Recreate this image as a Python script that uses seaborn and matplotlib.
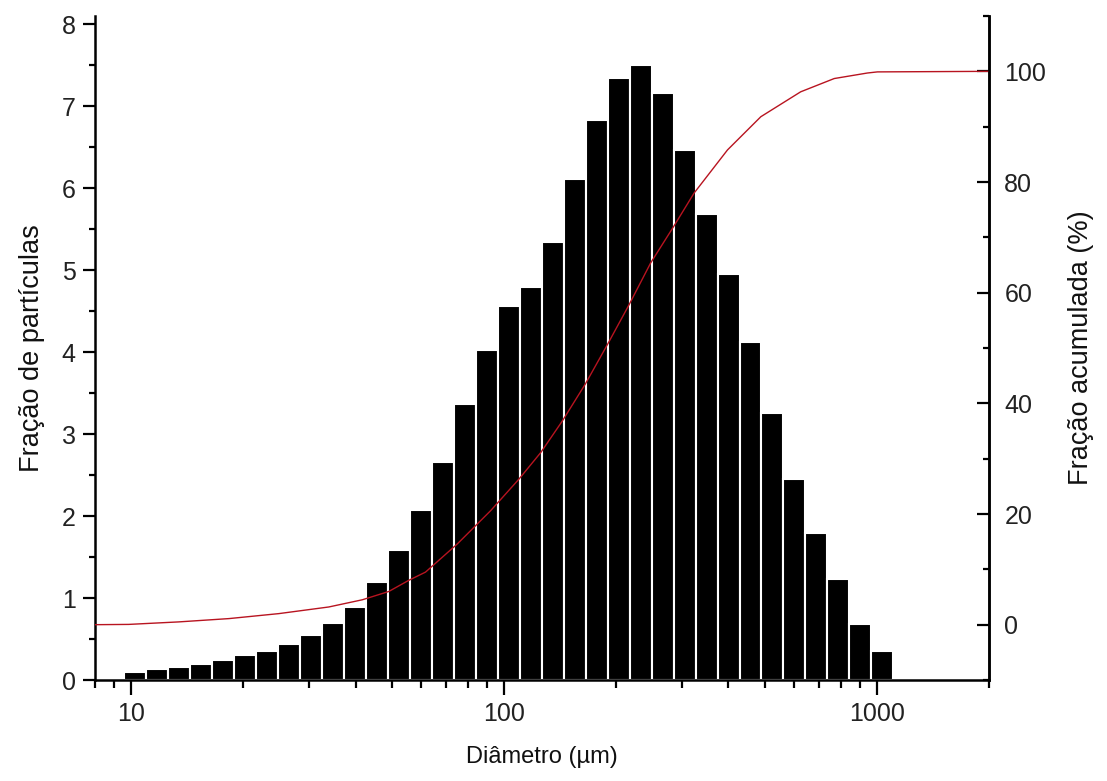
import numpy as np
import pandas as pd
import seaborn as sns
from matplotlib import pyplot as plt
from matplotlib.ticker import MultipleLocator, LogLocator, NullFormatter, FixedLocator

# dados
diametro = [10.26, 11.75, 13.46, 15.41, 17.65, 20.22, 23.15, 26.52, 30.37, 34.78,
            39.83, 45.62, 52.25, 59.84, 68.58, 78.54, 89.95, 103.0, 118.0, 135.2,
            154.8, 177.3, 203.1, 232.6, 266.5, 305.1, 349.4, 400.4, 458.5, 525.2,
            601.5, 688.8, 789.0, 903.6, 1035.0]
fracao = [0.10, 0.13, 0.16, 0.20, 0.24, 0.30, 0.36, 0.44, 0.55, 0.69,
          0.89, 1.19, 1.59, 2.08, 2.66, 3.37, 4.03, 4.56, 4.80, 5.34,
          6.11, 6.83, 7.34, 7.50, 7.16, 6.46, 5.69, 4.95, 4.12, 3.26,
          2.45, 1.79, 1.23, 0.68, 0.36]

curva_d = [8, 9.85, 13.4, 18.3, 24.9, 33.9, 41.7, 49.1, 55.5, 61.6, 75.0, 92.1,
           109.7, 125.5, 143.4, 165.0, 189.4, 216.5, 247.6, 284.9, 323.6, 397.8,
           488.7, 625, 769, 944, 1004, 2000]
curva_acum = [0.0, 0.05, 0.5, 1.1, 2.0, 3.2, 4.5, 6.0, 8.0, 9.5, 14.6, 20.6,
              26.3, 31.1, 36.8, 43.4, 50.6, 57.8, 65.4, 71.9, 78.0, 85.8,
              91.8, 96.3, 98.7, 99.7, 99.9, 100.0]

df = pd.DataFrame({"d": diametro, "f": fracao})
curva = pd.DataFrame({"d": curva_d, "acum": curva_acum})

sns.set_style("ticks", {"axes.edgecolor": "black", "text.color": "black",
                        "axes.labelcolor": "black", "xtick.color": "black",
                        "ytick.color": "black"})
plt.rcParams['font.family'] = ['Liberation Sans', 'DejaVu Sans']
plt.rcParams['axes.linewidth'] = 1.8

# bordas dos bins em escala log (meio caminho entre centros)
logd = np.log10(diametro)
meio = (logd[1:] + logd[:-1]) / 2
passo = logd[1] - logd[0]
bordas = [logd[0] - passo / 2] + list(meio) + [logd[-1] + passo / 2]

fig, ax = plt.subplots(figsize=(11.07, 7.81), dpi=100)
fig.subplots_adjust(left=0.0858, right=0.8934, top=0.9795, bottom=0.1293)

sns.histplot(data=df, x="d", weights="f", bins=bordas, log_scale=True, ax=ax,
             color="black", alpha=1, edgecolor="white", linewidth=1.5)

ax.set_xlim(8, 2000)
ax.set_ylim(0, 8.1)
ax.set_xlabel("Diâmetro (µm)", fontsize=17, labelpad=14, color="#111111")
ax.set_ylabel("Fração de partículas", fontsize=19.5, labelpad=12, color="#111111")
ax.xaxis.set_major_locator(FixedLocator([10, 100, 1000]))
ax.set_xticklabels(["10", "100", "1000"])
ax.xaxis.set_minor_locator(LogLocator(base=10, subs=np.arange(2, 10)))
ax.xaxis.set_minor_formatter(NullFormatter())
ax.yaxis.set_major_locator(MultipleLocator(1))
ax.yaxis.set_minor_locator(MultipleLocator(0.5))
ax.tick_params(axis="x", which="major", length=11, width=1.6, labelsize=18, pad=5,
               labelcolor="#222222")
ax.tick_params(axis="x", which="minor", length=6, width=1.6)
ax.tick_params(axis="y", which="major", length=9, width=1.6, labelsize=18, pad=5,
               labelcolor="#222222")
ax.tick_params(axis="y", which="minor", length=4.5, width=1.6)
ax.spines["top"].set_visible(False)

ax2 = ax.twinx()
sns.lineplot(data=curva, x="d", y="acum", ax=ax2, color="#b81420", linewidth=1)
ax2.set_ylim(-10, 110)
ax2.set_yticks([0, 20, 40, 60, 80, 100])
ax2.yaxis.set_minor_locator(MultipleLocator(10))
ax2.set_ylabel("Fração acumulada (%)", fontsize=19.5, labelpad=16, color="#111111")
ax2.tick_params(axis="y", which="major", direction="in", length=9, width=1.6,
                labelsize=18, pad=11, labelcolor="#222222")
ax2.tick_params(axis="y", which="minor", direction="in", length=4.5, width=1.6)
ax2.spines["top"].set_visible(False)
ax2.spines["left"].set_visible(False)
ax2.spines["bottom"].set_visible(False)
ax2.set_xlim(8, 2000)

fig.savefig("out.png", dpi=100)
